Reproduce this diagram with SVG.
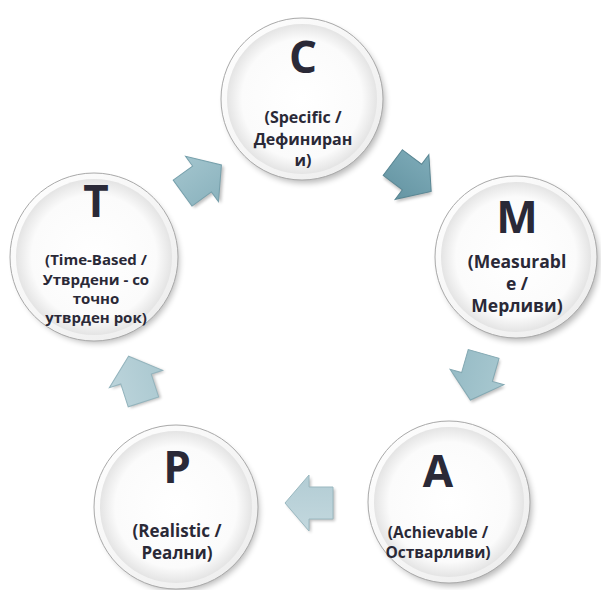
<svg xmlns="http://www.w3.org/2000/svg" width="601" height="590" viewBox="0 0 601 590">
<defs>
<radialGradient id="inner" cx="0.5" cy="0.5" r="0.5">
<stop offset="0" stop-color="#ffffff"/>
<stop offset="0.8" stop-color="#fbfbfb"/>
<stop offset="1" stop-color="#e4e4e4"/>
</radialGradient>
<linearGradient id="rim" x1="0" y1="0" x2="1" y2="1">
<stop offset="0" stop-color="#ffffff"/>
<stop offset="1" stop-color="#ececec"/>
</linearGradient>
<filter id="sh" x="-30%" y="-30%" width="160%" height="160%">
<feGaussianBlur stdDeviation="3"/>
</filter>
<filter id="ash" x="-30%" y="-30%" width="160%" height="160%">
<feGaussianBlur stdDeviation="1.5"/>
</filter>
<linearGradient id="a1" x1="0" y1="0" x2="0" y2="1"><stop offset="0" stop-color="#7eabb8"/><stop offset="1" stop-color="#6595a3"/></linearGradient>
<linearGradient id="a2" x1="0" y1="0" x2="0" y2="1"><stop offset="0" stop-color="#a8c8d0"/><stop offset="1" stop-color="#96bbc5"/></linearGradient>
<linearGradient id="a3" x1="0" y1="0" x2="0" y2="1"><stop offset="0" stop-color="#c3d8de"/><stop offset="1" stop-color="#b2ccd4"/></linearGradient>
<linearGradient id="a4" x1="0" y1="0" x2="0" y2="1"><stop offset="0" stop-color="#bcd4db"/><stop offset="1" stop-color="#aac8d0"/></linearGradient>
<linearGradient id="a5" x1="0" y1="0" x2="0" y2="1"><stop offset="0" stop-color="#a2c4cd"/><stop offset="1" stop-color="#8bb3be"/></linearGradient>
<path id="arrow" d="M-24,-16 L0,-16 L0,-28 L24,0 L0,28 L0,16 L-24,16 Z"/>
</defs>
<style>
.shadow{fill:#000;opacity:0.28;filter:url(#sh)}
.outer{fill:url(#rim);stroke:#a9a9a9;stroke-width:1}
.inner{fill:url(#inner)}
.letter{font-family:"Open Sans","DejaVu Sans",sans-serif;font-weight:bold;font-size:44px;fill:#2a2937;text-anchor:middle}
.sub{font-family:"Open Sans","DejaVu Sans",sans-serif;font-weight:bold;font-size:15px;fill:#2a2937;text-anchor:middle}
.ashadow{fill:#000;opacity:0.25;filter:url(#ash)}
.arr{stroke-width:1;stroke-linejoin:miter}
</style>
<rect width="601" height="590" fill="#ffffff"/>

<g id="connectors">
<g transform="translate(412,177) rotate(37)">
<use href="#arrow" class="ashadow" transform="translate(2,2)"/>
<use href="#arrow" class="arr" fill="url(#a1)" stroke="#5a8794"/>
</g>
<g transform="translate(477,377) rotate(106)">
<use href="#arrow" class="ashadow" transform="translate(2,-2)"/>
<use href="#arrow" class="arr" fill="url(#a2)" stroke="#84a9b3"/>
</g>
<g transform="translate(309,503) rotate(180)">
<use href="#arrow" class="ashadow" transform="translate(-2,-2)"/>
<use href="#arrow" class="arr" fill="url(#a3)" stroke="#9ab8c0"/>
</g>
<g transform="translate(136,379) rotate(-108)">
<use href="#arrow" class="ashadow" transform="translate(-2,2)"/>
<use href="#arrow" class="arr" fill="url(#a4)" stroke="#93b4bd"/>
</g>
<g transform="translate(202,179) rotate(-36)">
<use href="#arrow" class="ashadow" transform="translate(1,3)"/>
<use href="#arrow" class="arr" fill="url(#a5)" stroke="#76a0ac"/>
</g>
</g>

<g id="node-C">
<circle class="shadow" cx="305" cy="103" r="80"/>
<circle class="outer" cx="302" cy="99" r="81"/>
<circle class="inner" cx="302" cy="99" r="75"/>
<text class="letter" x="303" y="73">C</text>
<text class="sub" x="303" y="123" style="font-size:16px">(Specific /</text>
<text class="sub" x="303" y="145" style="font-size:16px">Дефиниран</text>
<text class="sub" x="303" y="166" style="font-size:16px">и)</text>
</g>

<g id="node-M">
<circle class="shadow" cx="519" cy="261" r="80"/>
<circle class="outer" cx="516" cy="257" r="81"/>
<circle class="inner" cx="516" cy="257" r="75"/>
<text class="letter" x="517" y="233">M</text>
<text class="sub" x="517" y="268" style="font-size:17.5px">(Measurabl</text>
<text class="sub" x="517" y="290" style="font-size:17.5px">e /</text>
<text class="sub" x="517" y="312" style="font-size:17.5px">Мерливи)</text>
</g>

<g id="node-A">
<circle class="shadow" cx="452" cy="506" r="80"/>
<circle class="outer" cx="449" cy="502" r="81"/>
<circle class="inner" cx="449" cy="502" r="75"/>
<text class="letter" x="438" y="487">A</text>
<text class="sub" x="438" y="538" style="font-size:15.5px">(Achievable /</text>
<text class="sub" x="438" y="558" style="font-size:15.5px">Остварливи)</text>
</g>

<g id="node-P">
<circle class="shadow" cx="179" cy="511" r="80"/>
<circle class="outer" cx="176" cy="507" r="82"/>
<circle class="inner" cx="176" cy="507" r="76"/>
<text class="letter" x="177" y="483">P</text>
<text class="sub" x="177" y="537" style="font-size:17px">(Realistic /</text>
<text class="sub" x="177" y="559" style="font-size:17px">Реални)</text>
</g>

<g id="node-T">
<circle class="shadow" cx="97" cy="261" r="82"/>
<circle class="outer" cx="94" cy="257" r="84"/>
<circle class="inner" cx="94" cy="257" r="78"/>
<text class="letter" x="96" y="217">T</text>
<text class="sub" x="96" y="265">(Time-Based /</text>
<text class="sub" x="96" y="285">Утврдени - со</text>
<text class="sub" x="96" y="304">точно</text>
<text class="sub" x="96" y="323">утврден рок)</text>
</g>
</svg>
